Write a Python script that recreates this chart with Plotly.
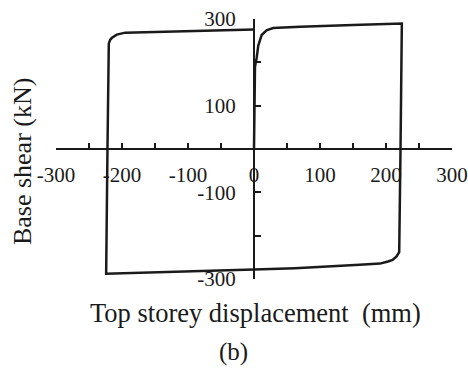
import plotly.graph_objects as go

# Hysteresis loop: top storey displacement (mm) vs base shear (kN)
disp = [0, 0.5, 1.5, 4, 6.5, 11.6, 19, 29, 70, 150, 224,
        222, 220, 216, 210, 203, 191, 160, 62, 0, -100, -224,
        -222, -220, -218, -215.6, -208, -195, -150, -75, 0]
shear = [0, 120, 190, 210, 239, 263, 274, 279, 282, 286, 289.5,
         0, -238, -248, -256, -259.5, -264.5, -267, -275, -278, -283, -288,
         0, 243, 252, 256, 264, 268.5, 270, 273, 276]

x_ticks = [-300, -250, -200, -150, -100, -50, 0, 50, 100, 150, 200, 250, 300]
x_labels = ["-300", "", "-200", "", "-100", "", "0", "", "100", "", "200", "", "300"]
y_ticks = [-300, -200, -100, 0, 100, 200, 300]
y_labels = ["-300", "", "-100", "", "100", "", "300"]

FONT = "Liberation Serif, Times New Roman, serif"
INK = "#1a1a1a"

fig = go.Figure()
fig.add_trace(go.Scatter(x=disp, y=shear, mode="lines",
                         line=dict(color=INK, width=2.5), showlegend=False,
                         cliponaxis=False))

fig.update_layout(
    width=468, height=369,
    margin=dict(l=56, r=16, t=19, b=90, autoexpand=False),
    paper_bgcolor="white", plot_bgcolor="white",
    font=dict(family=FONT, color=INK, size=21),
    xaxis=dict(range=[-300, 300], anchor="free", position=0.5, automargin=False,
               showgrid=False, zeroline=False,
               showline=True, linecolor=INK, linewidth=2,
               ticks="inside", ticklen=5, tickwidth=2, tickcolor=INK,
               tickvals=x_ticks, ticktext=x_labels,
               tickfont=dict(family=FONT, size=21, color=INK),
               ticklabelstandoff=7),
    yaxis=dict(range=[-300, 300], anchor="free", position=0.5, automargin=False,
               showgrid=False, zeroline=False,
               showline=True, linecolor=INK, linewidth=2,
               ticks="inside", ticklen=6, tickwidth=2, tickcolor=INK,
               tickvals=y_ticks, ticktext=y_labels,
               tickfont=dict(family=FONT, size=21, color=INK),
               ticklabelstandoff=13),
    annotations=[
        dict(text="Top storey displacement\u00a0 (mm)", xref="paper", yref="paper",
             x=0.505, y=-0.131, showarrow=False, xanchor="center", yanchor="middle",
             font=dict(family=FONT, size=26.5, color=INK)),
        dict(text="Base shear (kN)", xref="paper", yref="paper",
             x=-0.083, y=0.454, showarrow=False, textangle=-90,
             xanchor="center", yanchor="middle",
             font=dict(family=FONT, size=26, color=INK)),
        dict(text="(b)", xref="paper", yref="paper",
             x=0.449, y=-0.281, showarrow=False, xanchor="center", yanchor="middle",
             font=dict(family=FONT, size=25, color=INK)),
    ],
)

fig.write_html("out.html")
